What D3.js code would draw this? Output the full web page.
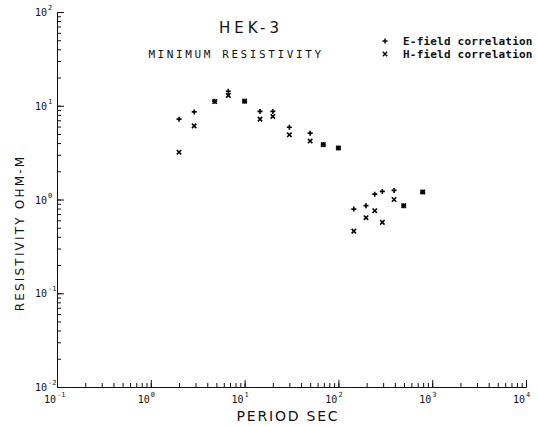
<!DOCTYPE html>
<html>
<head>
<meta charset="utf-8">
<script src="https://cdn.jsdelivr.net/npm/d3@7"></script>
<style>
  body { margin: 0; background: #fff; }
  svg { display: block; }
  .axis path, .axis line { stroke: #111; }
  .axis text { display: none; }
</style>
</head>
<body>
<svg width="538" height="426"></svg>
<script>
// period (sec) and minimum resistivity (ohm-m)
const periods = [2, 2.9, 4.8, 6.7, 10, 14.6, 20, 30, 50, 69, 100, 146, 197, 244, 294, 392, 497, 792];
const eField  = [7.2, 8.6, 11.2, 14.3, 11.2, 8.7, 8.7, 5.9, 5.1, 3.85, 3.55, 0.79, 0.86, 1.14, 1.22, 1.25, 0.86, 1.2];
const hField  = [3.2, 6.1, 11.1, 12.9, 11.2, 7.2, 7.7, 4.9, 4.2, 3.85, 3.55, 0.46, 0.64, 0.76, 0.57, 1.0, 0.86, 1.2];
const xMajor = [0.1, 1, 10, 100, 1000, 10000];
const yMajor = [0.01, 0.1, 1, 10, 100];

const svg = d3.select("svg");
const x = d3.scaleLog().domain([0.1, 10000]).range([57, 526]);
const y = d3.scaleLog().domain([0.01, 100]).range([387, 12]);
const mono = "'DejaVu Sans Mono', monospace";
const sans = "'DejaVu Sans', sans-serif";

// minor ticks, pointing inward
svg.append("g").attr("class", "axis").attr("transform", "translate(0,387)")
    .call(d3.axisBottom(x).tickSizeInner(-4).tickSizeOuter(0).tickFormat(""));
svg.append("g").attr("class", "axis").attr("transform", "translate(57,0)")
    .call(d3.axisLeft(y).tickSizeInner(-4).tickSizeOuter(0).tickFormat(""));
// major ticks
svg.append("g").attr("class", "axis").attr("transform", "translate(0,387)")
    .call(d3.axisBottom(x).tickValues(xMajor).tickSizeInner(-7).tickSizeOuter(0).tickFormat(""));
svg.append("g").attr("class", "axis").attr("transform", "translate(57,0)")
    .call(d3.axisLeft(y).tickValues(yMajor).tickSizeInner(-7).tickSizeOuter(0).tickFormat(""));
svg.selectAll(".axis path").attr("stroke-width", 1);
svg.selectAll(".axis line").attr("stroke-width", 1);

// tick labels as 10 with exponent
function powLabel(g, px, py, exp) {
    g.append("text").attr("x", px).attr("y", py).attr("text-anchor", "end")
        .attr("font-family", mono).attr("font-size", 10).text("10");
    g.append("text").attr("x", px + 1).attr("y", py - 6)
        .attr("font-family", mono).attr("font-size", 7).text(exp);
}
const labels = svg.append("g").attr("fill", "#111");
xMajor.forEach(v => powLabel(labels, x(v) - 1, 403, Math.round(Math.log10(v))));
yMajor.forEach(v => powLabel(labels, 47, y(v) + 4, Math.round(Math.log10(v))));

// titles
svg.append("text").attr("x", 251).attr("y", 33).attr("text-anchor", "middle")
    .attr("font-family", sans).attr("font-size", 15).attr("letter-spacing", 4)
    .attr("fill", "#111").text("HEK-3");
svg.append("text").attr("x", 236).attr("y", 58).attr("text-anchor", "middle")
    .attr("font-family", mono).attr("font-size", 11).attr("letter-spacing", 2.6)
    .attr("fill", "#111").text("MINIMUM RESISTIVITY");
svg.append("text").attr("x", 288).attr("y", 421).attr("text-anchor", "middle")
    .attr("font-family", sans).attr("font-size", 14).attr("letter-spacing", 1.8)
    .attr("fill", "#111").text("PERIOD SEC");
svg.append("text").attr("transform", "translate(24,233) rotate(-90)").attr("text-anchor", "middle")
    .attr("font-family", sans).attr("font-size", 12).attr("letter-spacing", 2.2)
    .attr("fill", "#111").text("RESISTIVITY OHM-M");

// markers
function drawPlus(g, px, py) {
    g.append("path").attr("d", `M${px - 2.5},${py}h5M${px},${py - 2.5}v5`);
}
function drawX(g, px, py) {
    g.append("path").attr("d", `M${px - 2.2},${py - 2.2}l4.4,4.4M${px - 2.2},${py + 2.2}l4.4,-4.4`);
}
const marks = svg.append("g").attr("stroke", "#000").attr("stroke-width", 1.6).attr("fill", "none");
periods.forEach((p, i) => {
    drawPlus(marks, x(p), y(eField[i]));
    drawX(marks, x(p), y(hField[i]));
});

// legend
const leg = svg.append("g");
drawPlus(leg.append("g").attr("stroke", "#000").attr("stroke-width", 1.4), 385, 41);
drawX(leg.append("g").attr("stroke", "#000").attr("stroke-width", 1.4), 385, 54);
leg.append("text").attr("x", 403).attr("y", 45).attr("font-family", mono).attr("font-size", 11)
    .attr("font-weight", "bold").attr("letter-spacing", 0.2).attr("fill", "#111").text("E-field correlation");
leg.append("text").attr("x", 403).attr("y", 58).attr("font-family", mono).attr("font-size", 11)
    .attr("font-weight", "bold").attr("letter-spacing", 0.2).attr("fill", "#111").text("H-field correlation");
</script>
</body>
</html>
